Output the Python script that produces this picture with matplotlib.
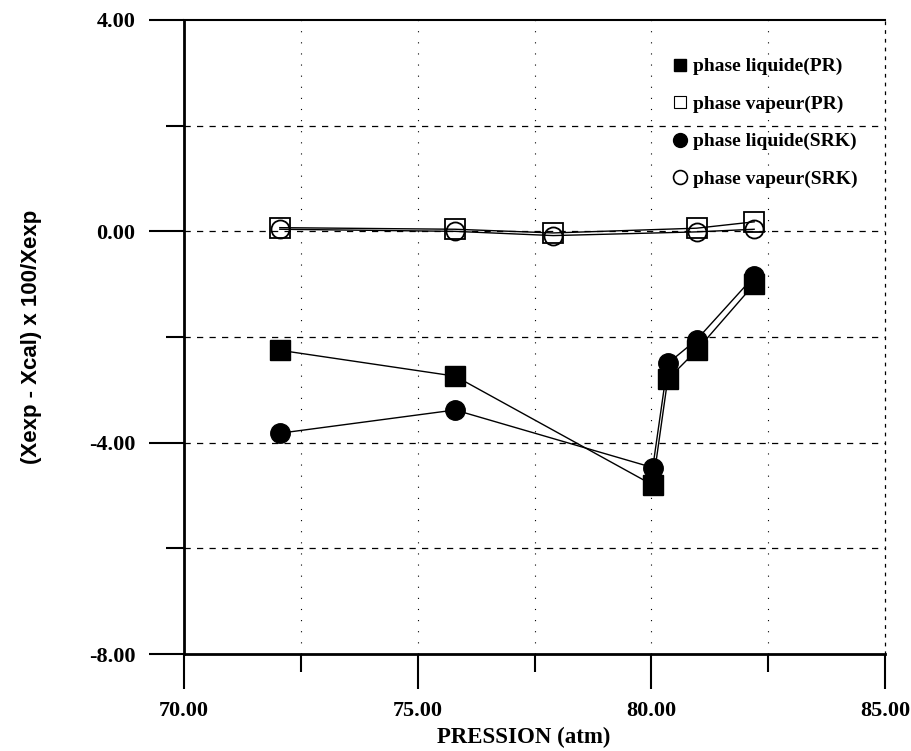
import numpy as np
import matplotlib.pyplot as plt

plt.rcParams['font.family'] = ['Liberation Serif', 'DejaVu Serif']
plt.rcParams['font.weight'] = 'bold'

# pressure (atm)
p_liq = [72.05, 75.8, 80.03, 80.35, 80.97, 82.2]
p_vap = [72.05, 75.8, 77.9, 80.97, 82.2]

# relative deviation (Xexp - Xcal) x 100 / Xexp
liq_pr = [-2.25, -2.74, -4.80, -2.80, -2.25, -1.00]
liq_srk = [-3.82, -3.38, -4.47, -2.50, -2.05, -0.85]
vap_pr = [0.07, 0.04, -0.03, 0.06, 0.18]
vap_srk = [0.04, 0.00, -0.08, -0.01, 0.04]

labels = ['phase liquide(PR)', 'phase vapeur(PR)',
          'phase liquide(SRK)', 'phase vapeur(SRK)']

fig = plt.figure(figsize=(9.12, 7.51), dpi=100)
ax = fig.add_axes([0.2018, 0.129, 0.7686, 0.8444])

ax.plot(p_liq, liq_pr, color='k', lw=1.0, marker='s', ms=14, mfc='k', mec='k')
ax.plot(p_vap, vap_pr, color='k', lw=1.0, marker='s', ms=14, mfc='none', mec='k', mew=1.3)
ax.plot(p_liq, liq_srk, color='k', lw=1.0, marker='o', ms=14, mfc='k', mec='k')
ax.plot(p_vap, vap_srk, color='k', lw=1.0, marker='o', ms=13, mfc='none', mec='k', mew=1.3)

ax.set_xlim(70, 85)
ax.set_ylim(-8, 4)
ax.set_xticks([70, 75, 80, 85])
ax.set_xticks([72.5, 77.5, 82.5], minor=True)
ax.set_yticks([-8, -4, 0, 4])
ax.set_yticks([-6, -2, 2], minor=True)
ax.set_xticklabels(['70.00', '75.00', '80.00', '85.00'])
ax.set_yticklabels(['-8.00', '-4.00', '0.00', '4.00'])
ax.tick_params(which='major', direction='out', length=25, width=1.5, labelsize=16, pad=10)
ax.tick_params(which='minor', direction='out', length=13, width=1.5)
ax.tick_params(axis='x', which='major', pad=9)

# dashed grid
for y in [-6, -4, -2, 0, 2]:
    ax.axhline(y, color='k', lw=0.9, ls=(0, (5, 5)), zorder=0)
for x in [72.5, 75, 77.5, 80, 82.5]:
    ax.axvline(x, color='k', lw=0.8, ls=(0, (1, 9)), zorder=0)

ax.spines['left'].set_linewidth(2)
ax.spines['bottom'].set_linewidth(2)
ax.spines['top'].set_linewidth(1.5)
ax.spines['right'].set_linewidth(0.9)
ax.spines['right'].set_linestyle((0, (2, 5)))

ax.set_xlabel('PRESSION (atm)', fontsize=16.5, fontweight='bold')
ax.xaxis.set_label_coords(0.484, -0.114)
ax.set_ylabel('(Xexp - Xcal) x 100/Xexp', fontsize=16, fontweight='bold',
              family=['Liberation Sans Narrow', 'Liberation Sans', 'DejaVu Sans'])
ax.yaxis.set_label_coords(-0.203, 0.5)

handles = [
    plt.Line2D([], [], ls='none', marker='s', ms=9, mfc='k', mec='k'),
    plt.Line2D([], [], ls='none', marker='s', ms=8, mfc='none', mec='k', mew=0.8),
    plt.Line2D([], [], ls='none', marker='o', ms=10, mfc='k', mec='k'),
    plt.Line2D([], [], ls='none', marker='o', ms=10, mfc='none', mec='k', mew=1.2),
]
fig.legend(handles, labels, loc='upper left', bbox_to_anchor=(0.726, 0.936),
           frameon=False, fontsize=14, labelspacing=1.02, handlelength=0.8,
           handletextpad=0.3, borderpad=0)

fig.savefig('out.png', dpi=100, facecolor='white')
